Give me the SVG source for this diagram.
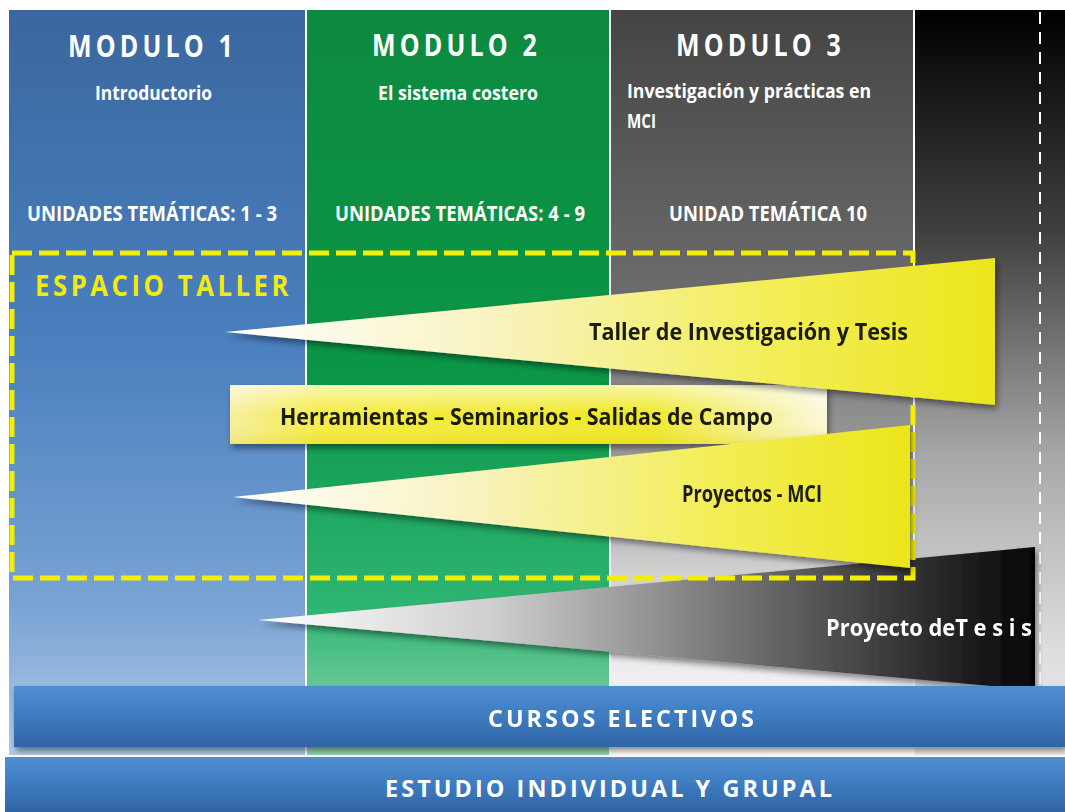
<svg xmlns="http://www.w3.org/2000/svg" width="1065" height="812" viewBox="0 0 1065 812">
<style>
.hd{font-family:"Open Sans","Liberation Sans",sans-serif;font-weight:bold;fill:#ffffff}
.wt{font-family:"Open Sans","Liberation Sans",sans-serif;font-weight:bold;fill:#1a1a10}
</style>
<defs>
<linearGradient id="gBlue" x1="0" y1="0" x2="0" y2="1">
<stop offset="0" stop-color="#3a679f"/><stop offset="0.45" stop-color="#4a80bf"/><stop offset="0.8" stop-color="#79a3d4"/><stop offset="1" stop-color="#b3cbe8"/>
</linearGradient>
<linearGradient id="gGreen" x1="0" y1="0" x2="0" y2="1">
<stop offset="0" stop-color="#0c8a3f"/><stop offset="0.5" stop-color="#0b9747"/><stop offset="0.8" stop-color="#2eb573"/><stop offset="1" stop-color="#93d8b0"/>
</linearGradient>
<linearGradient id="gGray" x1="0" y1="0" x2="0" y2="1">
<stop offset="0" stop-color="#444444"/><stop offset="0.4" stop-color="#6e6e6e"/><stop offset="0.62" stop-color="#a0a0a0"/><stop offset="0.8" stop-color="#e0e0e0"/><stop offset="1" stop-color="#ffffff"/>
</linearGradient>
<linearGradient id="gDark" x1="0" y1="0" x2="0" y2="1">
<stop offset="0" stop-color="#000000"/><stop offset="0.3" stop-color="#404040"/><stop offset="0.6" stop-color="#a8a8a8"/><stop offset="0.85" stop-color="#dcdcdc"/><stop offset="1" stop-color="#eeeeee"/>
</linearGradient>
<linearGradient id="gWedgeY" x1="0" y1="0" x2="1" y2="0">
<stop offset="0" stop-color="#ffffff"/><stop offset="0.35" stop-color="#f8f3c0"/><stop offset="0.7" stop-color="#f3ee5a"/><stop offset="1" stop-color="#ece51a"/>
</linearGradient>
<linearGradient id="gBarY" x1="0" y1="0" x2="1" y2="0">
<stop offset="0" stop-color="#f7eea0"/><stop offset="0.15" stop-color="#f4ec40"/><stop offset="0.7" stop-color="#efe824"/><stop offset="0.9" stop-color="#f6f2a0"/><stop offset="1" stop-color="#fbf8dc"/>
</linearGradient>
<linearGradient id="gBarYv" x1="0" y1="0" x2="0" y2="1">
<stop offset="0" stop-color="#ffffff" stop-opacity="0.6"/><stop offset="0.5" stop-color="#ffffff" stop-opacity="0"/><stop offset="1" stop-color="#d8cc00" stop-opacity="0.25"/>
</linearGradient>
<linearGradient id="gTesis" x1="0" y1="0" x2="1" y2="0">
<stop offset="0" stop-color="#ffffff"/><stop offset="0.3" stop-color="#cfcfcf"/><stop offset="0.6" stop-color="#777777"/><stop offset="1" stop-color="#050505"/>
</linearGradient>
<linearGradient id="gBar" x1="0" y1="0" x2="0" y2="1">
<stop offset="0" stop-color="#4f8fd2"/><stop offset="0.5" stop-color="#3e7bc0"/><stop offset="1" stop-color="#2f64a4"/>
</linearGradient>
<filter id="sh" x="-5%" y="-20%" width="110%" height="150%">
<feGaussianBlur in="SourceAlpha" stdDeviation="3"/><feOffset dx="2" dy="4"/>
<feComponentTransfer><feFuncA type="linear" slope="0.45"/></feComponentTransfer>
<feMerge><feMergeNode/><feMergeNode in="SourceGraphic"/></feMerge>
</filter>
</defs>
<rect x="0" y="0" width="1065" height="812" fill="#ffffff"/>

<g id="col1"><rect x="9" y="10" width="296" height="745" fill="url(#gBlue)"/></g>
<g id="col2"><rect x="307" y="10" width="302" height="745" fill="url(#gGreen)"/></g>
<g id="col3"><rect x="611" y="10" width="302" height="745" fill="url(#gGray)"/></g>
<g id="col4"><rect x="915" y="10" width="150" height="745" fill="url(#gDark)"/>
<line x1="1040" y1="12" x2="1040" y2="690" stroke="#ffffff" stroke-width="2" stroke-dasharray="12,8"/></g>

<g id="modulo1">
<text class="hd" x="68" y="57" font-size="30" textLength="169" lengthAdjust="spacingAndGlyphs" letter-spacing="5">MODULO 1</text>
<text class="hd" x="95" y="100" font-size="19" textLength="117" lengthAdjust="spacingAndGlyphs">Introductorio</text>
<text class="hd" x="27" y="221" font-size="22" textLength="250" lengthAdjust="spacingAndGlyphs">UNIDADES TEMÁTICAS: 1 - 3</text>
</g>
<g id="modulo2">
<text class="hd" x="372" y="56" font-size="30" textLength="169" lengthAdjust="spacingAndGlyphs" letter-spacing="5">MODULO 2</text>
<text class="hd" x="378" y="100" font-size="19" textLength="160" lengthAdjust="spacingAndGlyphs">El sistema costero</text>
<text class="hd" x="335" y="221" font-size="22" textLength="250" lengthAdjust="spacingAndGlyphs">UNIDADES TEMÁTICAS: 4 - 9</text>
</g>
<g id="modulo3">
<text class="hd" x="676" y="56" font-size="30" textLength="169" lengthAdjust="spacingAndGlyphs" letter-spacing="5">MODULO 3</text>
<text class="hd" x="627" y="98" font-size="19" textLength="244" lengthAdjust="spacingAndGlyphs">Investigación y prácticas en</text>
<text class="hd" x="627" y="128" font-size="19" textLength="29" lengthAdjust="spacingAndGlyphs">MCI</text>
<text class="hd" x="669" y="221" font-size="22" textLength="198" lengthAdjust="spacingAndGlyphs">UNIDAD TEMÁTICA 10</text>
</g>

<g id="tesis" filter="url(#sh)">
<polygon points="258,620 1035,547 1035,690" fill="url(#gTesis)"/>
<text class="hd" x="826" y="636" font-size="23" textLength="206" lengthAdjust="spacingAndGlyphs">Proyecto deT e s i s</text>
</g>

<g id="espacio-taller">
<rect x="12" y="253" width="901" height="325" fill="none" stroke="#f4ee00" stroke-width="5" stroke-dasharray="20,7"/>
<text x="35" y="296" font-size="29" font-family="Open Sans, Liberation Sans, sans-serif" font-weight="bold" fill="#f2ea10" letter-spacing="4" textLength="257" lengthAdjust="spacingAndGlyphs">ESPACIO TALLER</text>
</g>

<g id="herramientas" filter="url(#sh)">
<rect x="230" y="385" width="597" height="59" fill="url(#gBarY)"/>
<rect x="230" y="385" width="597" height="59" fill="url(#gBarYv)"/>
<text class="wt" x="280" y="425" font-size="23" textLength="493" lengthAdjust="spacingAndGlyphs">Herramientas – Seminarios - Salidas de Campo</text>
</g>

<g id="taller" filter="url(#sh)">
<polygon points="225,332 995,258 995,405" fill="url(#gWedgeY)"/>
<text class="wt" x="589" y="340" font-size="24" textLength="319" lengthAdjust="spacingAndGlyphs">Taller de Investigación y Tesis</text>
</g>

<g id="proyectos" filter="url(#sh)">
<polygon points="233,497 910,425 910,568" fill="url(#gWedgeY)"/>
<text class="wt" x="682" y="502" font-size="24" textLength="140" lengthAdjust="spacingAndGlyphs">Proyectos - MCI</text>
</g>

<g id="cursos" filter="url(#sh)">
<rect x="14" y="686" width="1051" height="61" fill="url(#gBar)"/>
<text class="hd" x="488" y="727" font-size="23" letter-spacing="3" textLength="269" lengthAdjust="spacingAndGlyphs">CURSOS ELECTIVOS</text>
</g>
<g id="estudio">
<rect x="5" y="757" width="1060" height="55" fill="url(#gBar)"/>
<text class="hd" x="385" y="797" font-size="23" letter-spacing="3" textLength="450" lengthAdjust="spacingAndGlyphs">ESTUDIO INDIVIDUAL Y GRUPAL</text>
</g>
<g id="connectors"/>
</svg>
